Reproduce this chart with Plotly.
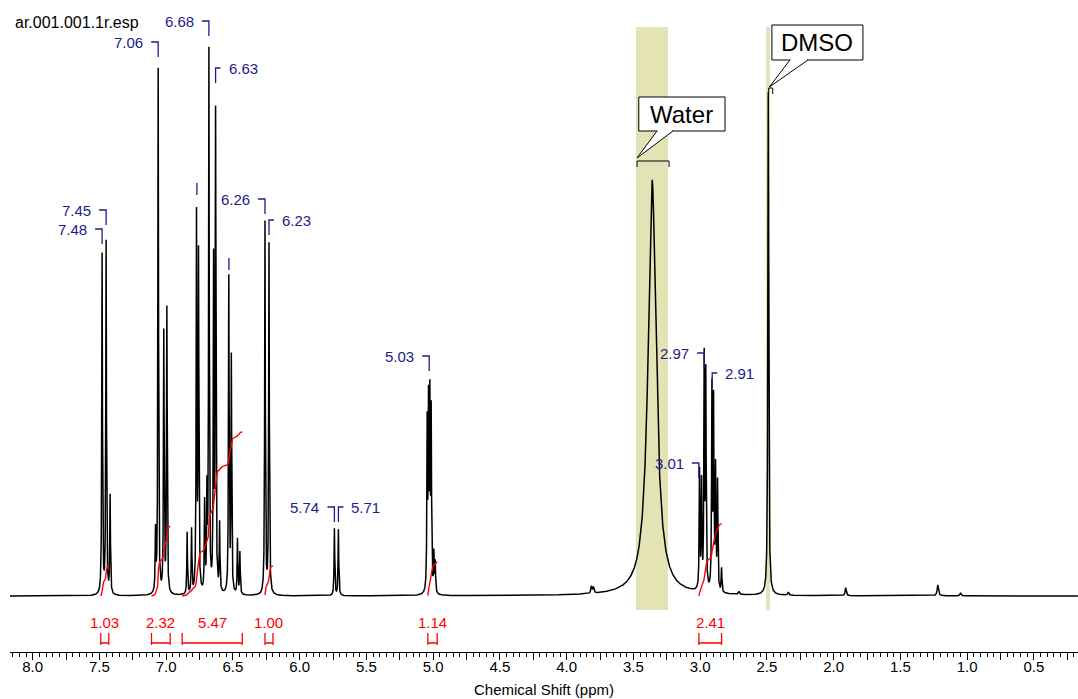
import numpy as np
import plotly.graph_objects as go

# ---------------- data ----------------
# peak list: chemical shift (ppm), height (arbitrary units), line width FWHM (ppm)
peak_ppm = [7.480, 7.450, 7.420, 7.080, 7.060, 7.018, 6.995, 6.843, 6.810, 6.773,
            6.758, 6.712, 6.695, 6.680, 6.645, 6.630, 6.600, 6.531, 6.512, 6.466,
            6.448, 6.260, 6.230, 5.740, 5.710, 5.045, 5.035, 5.025, 5.015, 4.995,
            4.985, 3.815, 3.800, 3.360, 3.005, 2.990, 2.970, 2.958, 2.912, 2.900,
            2.885, 2.870, 2.840, 2.710, 2.490, 2.340, 1.910, 1.220, 1.050]
peak_height = [340, 352, 98, 60, 525, 260, 285, 62, 64, 375,
               335, 88, 95, 540, 325, 475, 68, 315, 235, 55,
               42, 372, 350, 67, 66, 165, 180, 185, 175, 38,
               30, 7, 6, 416, 118, 105, 228, 212, 200, 185,
               120, 108, 24, 3, 503, 3, 8, 11, 3]
peak_fwhm = [0.0058] * 31 + [0.010, 0.010, 0.072] + [0.006] * 9 + [0.010, 0.0075, 0.010, 0.010, 0.012, 0.010]

# peak picking labels: (text ppm, label level, side)
label_ppm = [7.45, 7.48, 7.06, 6.68, 6.26, 5.74, 5.03, 2.97, 3.01,
             6.63, 6.23, 5.71, 2.91, 6.77, 6.53]
label_text = ["7.45", "7.48", "7.06", "6.68", "6.26", "5.74", "5.03", "2.97", "3.01",
              "6.63", "6.23", "5.71", "2.91", "", ""]
label_level = [386, 367, 554, 575, 397, 89, 240, 243, 133,
               528, 376, 89, 223, 413, 338]
label_side = ["L"] * 9 + ["R"] * 4 + ["N"] * 2

# integration regions: (from ppm, to ppm, value)
integ_from = [7.49, 7.11, 6.88, 6.26, 5.04, 3.01]
integ_to = [7.43, 6.97, 6.43, 6.20, 4.97, 2.84]
integ_value = [1.03, 2.32, 5.47, 1.00, 1.14, 2.41]

# tick labels
tick_vals = [round(8.0 - 0.25 * i, 2) for i in range(32)]
tick_text = [("%.1f" % v) if abs(v * 2 - round(v * 2)) < 1e-6 else "" for v in tick_vals]

# ---------------- build spectrum ----------------
X0, X1 = 8.17, 0.17
PPM_PER_PX = (X0 - X1) / 1068.0
x = np.round(np.arange(X0, X1, -0.0005), 4)
y = np.zeros_like(x)
for p, h, w in zip(peak_ppm, peak_height, peak_fwhm):
    y += h / (1.0 + ((x - p) / (w / 2.0)) ** 2)

NAVY = "#1c1c8c"
RED = "#ff0000"
BAND = "rgb(227,227,181)"
FONT = "Liberation Sans, Arial, sans-serif"

fig = go.Figure()
fig.add_trace(go.Scatter(x=x, y=y, mode="lines", line=dict(color="black", width=1.5),
                         hoverinfo="skip", showlegend=False))

# integral curves
UNIT = 30.0
for a, b, v in zip(integ_from, integ_to, integ_value):
    m = (x <= a) & (x >= b)
    xs = x[m]
    cs = np.cumsum(y[m])
    cs = cs / cs[-1] * v * UNIT
    fig.add_trace(go.Scatter(x=xs, y=cs, mode="lines", line=dict(color=RED, width=1.4),
                             hoverinfo="skip", showlegend=False))

shapes = []
annotations = []

# solvent bands
for lo, hi in [(3.241, 3.481), (2.477, 2.507)]:
    shapes.append(dict(type="rect", x0=lo, x1=hi, y0=-14, y1=569, fillcolor=BAND,
                       line=dict(width=0), layer="below"))

# peak labels
for p, t, lv, s in zip(label_ppm, label_text, label_level, label_side):
    if s == "L":
        shapes.append(dict(type="path",
                           path="M %f,%f L %f,%f L %f,%f" % (p + 7 * PPM_PER_PX, lv, p, lv, p, lv - 15),
                           line=dict(color=NAVY, width=1.3)))
        annotations.append(dict(x=p + 13 * PPM_PER_PX, y=lv, text=t, xanchor="right", yanchor="middle",
                                showarrow=False, font=dict(color=NAVY, size=15, family=FONT)))
    elif s == "R":
        shapes.append(dict(type="path",
                           path="M %f,%f L %f,%f L %f,%f" % (p, lv - 15, p, lv, p - 5 * PPM_PER_PX, lv),
                           line=dict(color=NAVY, width=1.3)))
        annotations.append(dict(x=p - 11 * PPM_PER_PX, y=lv, text=t, xanchor="left", yanchor="middle",
                                showarrow=False, font=dict(color=NAVY, size=15, family=FONT)))
    else:
        shapes.append(dict(type="line", x0=p, x1=p, y0=lv - 12, y1=lv,
                           line=dict(color=NAVY, width=1.3)))

# integration brackets
for a, b, v in zip(integ_from, integ_to, integ_value):
    shapes.append(dict(type="path",
                       path="M %f,%f L %f,%f M %f,%f L %f,%f M %f,%f L %f,%f" % (
                           a, -37, a, -49, b, -37, b, -49, a, -47, b, -47),
                       line=dict(color=RED, width=1.3)))
    annotations.append(dict(x=(a + b) / 2, y=-26, text="%.2f" % v, showarrow=False,
                            xanchor="center", yanchor="middle",
                            font=dict(color=RED, size=15, family=FONT)))

# callouts (Water, DMSO)
callouts = [
    # text, box x0, x1 (ppm), box y0, y1, pointer base x a, b, tip x, tip y, bracket x0, x1, bracket y
    ("Water", 3.46, 2.814, 465, 499, 3.324, 3.204, 3.473, 438, 3.473, 3.233, 435),
    ("DMSO", 2.463, 1.781, 536, 571, 2.328, 2.193, 2.482, 509, 2.487, 2.457, 508),
]
for (t, bx0, bx1, by0, by1, pa, pb, tx, ty, kx0, kx1, ky) in callouts:
    shapes.append(dict(type="rect", x0=bx0, x1=bx1, y0=by0, y1=by1, fillcolor="white",
                       line=dict(color="black", width=1)))
    shapes.append(dict(type="rect", x0=pa - PPM_PER_PX, x1=pb + PPM_PER_PX, y0=by0 - 1.5, y1=by0 + 1.5,
                       fillcolor="white", line=dict(width=0)))
    shapes.append(dict(type="path", path="M %f,%f L %f,%f L %f,%f" % (pa, by0, tx, ty, pb, by0),
                       fillcolor="white", line=dict(color="black", width=1)))
    shapes.append(dict(type="path", path="M %f,%f L %f,%f L %f,%f L %f,%f" % (
        kx0, ky - 6, kx0, ky, kx1, ky, kx1, ky - 6), line=dict(color="black", width=1)))
    annotations.append(dict(x=(bx0 + bx1) / 2, y=(by0 + by1) / 2, text=t, showarrow=False,
                            xanchor="center", yanchor="middle",
                            font=dict(color="black", size=24, family=FONT)))

annotations.append(dict(x=3.0 / 1068, xref="paper", y=574, text="ar.001.001.1r.esp",
                        showarrow=False, xanchor="left", yanchor="middle",
                        font=dict(color="black", size=16, family=FONT)))

fig.update_layout(
    width=1078, height=699,
    margin=dict(l=10, r=0, t=0, b=47),
    paper_bgcolor="white", plot_bgcolor="white",
    shapes=shapes, annotations=annotations,
    xaxis=dict(range=[X0, X1], showgrid=False, zeroline=False, showline=True,
               linecolor="black", linewidth=1, ticks="outside", ticklen=7, tickwidth=1,
               tickcolor="black", tickmode="array", tickvals=tick_vals, ticktext=tick_text,
               ticklabelstandoff=-6,
               tickfont=dict(size=15, color="black", family=FONT),
               minor=dict(ticks="outside", ticklen=4, tickcolor="black", dtick=0.05, tick0=0,
                          showgrid=False),
               title=dict(text="Chemical Shift (ppm)", font=dict(size=15, color="black", family=FONT),
                          standoff=10)),
    yaxis=dict(range=[-56, 596], visible=False, fixedrange=True),
    showlegend=False,
)

fig.write_html("out.html")
